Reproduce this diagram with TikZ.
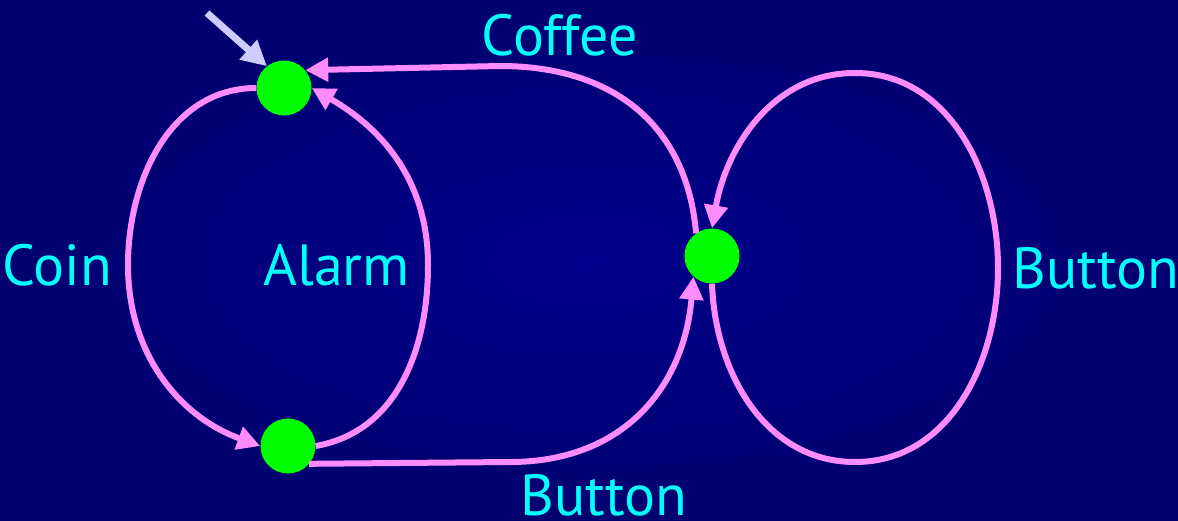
\documentclass[tikz,border=0pt]{standalone}
\usepackage{fontspec}
\setmainfont{PT Sans}
\usetikzlibrary{arrows.meta, positioning}
\definecolor{edgepink}{RGB}{255,140,255}
\definecolor{labelcyan}{RGB}{0,255,255}
\definecolor{initlilac}{RGB}{204,204,255}
\definecolor{bgouter}{RGB}{0,0,112}
\definecolor{bginner}{RGB}{0,0,140}

\begin{document}
\begin{tikzpicture}[x=1pt, y=1pt, line join=round,
    state/.style={circle, fill=green, minimum size=55pt, inner sep=0pt},
    trans/.style={draw=edgepink, line width=6pt, -{Triangle[length=23pt, width=23pt]}},
    lbl/.style={text=labelcyan, font=\fontsize{58}{64}\selectfont, inner sep=0pt}]

% background
\shade[inner color=bginner, outer color=bgouter] (0,0) rectangle (1178,-520);
\useasboundingbox (0,0) rectangle (1178,-520);

% states
\node[state] (A) at (284,-88) {};
\node[state] (B) at (288,-446) {};
\node[state] (C) at (712,-256) {};

% bends of the curves
\coordinate (coinL) at (128,-265);
\coordinate (alarmR) at (428,-265);
\coordinate (coffeeK) at (500,-66);
\coordinate (btnK) at (510,-462);
\coordinate (loopB) at (855,-462);
\coordinate (loopR) at (998,-268);
\coordinate (loopT) at (855,-73);
\coordinate (init) at (207,-13);

% start arrow
\draw[initlilac, line width=7pt, -{Triangle[length=25pt, width=25pt]}] (init) -- (A.128);

% transitions
\draw[trans] (A.west) to[out=180, in=90] (coinL) to[out=270, in=160] (B.west);
\draw[trans] (B.east) to[out=10, in=270] (alarmR) to[out=90, in=-30] (A.east);
\draw[trans] (C.125) to[out=95, in=0, looseness=1.1] (coffeeK) -- (A.40);
\draw[trans] (B.-40) -- (btnK) to[out=0, in=265, looseness=1.1] (C.228);
\draw[trans] (C.south) to[out=-88, in=180] (loopB) to[out=0, in=-90] (loopR)
    to[out=90, in=0] (loopT) to[out=180, in=80] (C.north);

% labels
\node[lbl, left=16pt of coinL] (coinlbl) {Coin};
\node[lbl, left=18pt of alarmR] (alarmlbl) {Alarm};
\node[lbl] (coffeelbl) at (560,-35) {Coffee};
\node[lbl] (btnlbl) at (604,-495) {Button};
\node[lbl, right=14pt of loopR] (looplbl) {Button};
\end{tikzpicture}
\end{document}
